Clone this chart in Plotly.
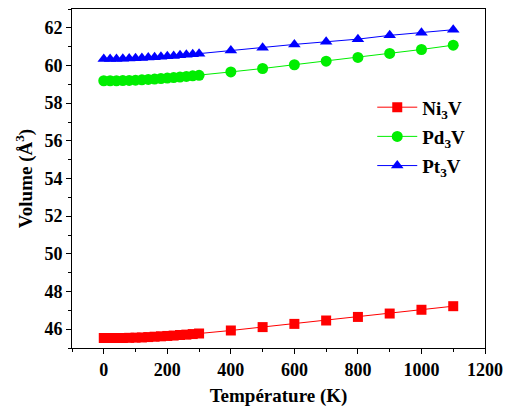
import plotly.graph_objects as go

# Temperatures (K): fine steps up to 300 K, then every 100 K
temperature = [0, 20, 40, 60, 80, 100, 120, 140, 160, 180, 200, 220, 240, 260, 280, 300,
               400, 500, 600, 700, 800, 900, 1000, 1100]

# Unit-cell volume (Å^3) for each compound
vol_ni3v = [45.53, 45.53, 45.53, 45.53, 45.54, 45.55, 45.56, 45.58, 45.60, 45.62, 45.64, 45.66,
            45.69, 45.71, 45.74, 45.77, 45.93, 46.11, 46.28, 46.46, 46.65, 46.83, 47.03, 47.22]
vol_pd3v = [59.19, 59.19, 59.19, 59.20, 59.21, 59.22, 59.24, 59.26, 59.28, 59.31, 59.33, 59.36,
            59.39, 59.42, 59.45, 59.48, 59.66, 59.84, 60.04, 60.23, 60.43, 60.64, 60.85, 61.08]
vol_pt3v = [60.35, 60.35, 60.35, 60.36, 60.37, 60.38, 60.40, 60.42, 60.44, 60.46, 60.49, 60.51,
            60.54, 60.57, 60.60, 60.63, 60.80, 60.94, 61.12, 61.26, 61.40, 61.60, 61.74, 61.90]

x_ticks = [0, 200, 400, 600, 800, 1000, 1200]
y_ticks = [46, 48, 50, 52, 54, 56, 58, 60, 62]

series = [
    ("Ni<sub>3</sub>V", vol_ni3v, "#ff0000", "square", 10),
    ("Pd<sub>3</sub>V", vol_pd3v, "#00ee00", "circle", 11),
    ("Pt<sub>3</sub>V", vol_pt3v, "#0000ff", "triangle-up", 11),
]

font_family = "Liberation Serif, Times New Roman, serif"

fig = go.Figure()
for i, (name, vals, color, symbol, size) in enumerate(series):
    fig.add_trace(go.Scatter(
        x=temperature, y=vals, name=name, mode="lines+markers",
        legendgroup="g%d" % i,
        line=dict(color=color, width=1),
        marker=dict(symbol=symbol, size=size, color=color, line=dict(width=0)),
    ))

axis_common = dict(
    showline=True, linecolor="black", linewidth=1, mirror=True,
    ticks="outside", ticklen=5, tickwidth=1, tickcolor="black",
    showgrid=False, zeroline=False,
    tickfont=dict(family=font_family, size=18, color="black", weight="bold"),
)

fig.update_xaxes(
    range=[-100, 1200], tickmode="array",
    tickvals=x_ticks,
    ticktext=[str(v) for v in x_ticks],
    minor=dict(dtick=100, tick0=0, ticks="outside", ticklen=3, tickcolor="black"),
    title=dict(text="Température (K)",
               font=dict(family=font_family, size=19, color="black", weight="bold"),
               standoff=10),
    **axis_common,
)
fig.update_yaxes(
    range=[45, 63], tickmode="array",
    tickvals=y_ticks,
    ticktext=[str(v) for v in y_ticks],
    minor=dict(dtick=1, tick0=45, ticks="outside", ticklen=3, tickcolor="black"),
    title=dict(text="Volume (Å<sup>3</sup>)",
               font=dict(family=font_family, size=19, color="black", weight="bold"),
               standoff=6),
    **axis_common,
)

fig.update_layout(
    width=511, height=412,
    margin=dict(l=72, r=20, t=8, b=64),
    paper_bgcolor="white", plot_bgcolor="white",
    showlegend=True,
    legend=dict(
        x=0.727, y=0.766, xanchor="left", yanchor="top",
        bgcolor="rgba(0,0,0,0)",
        font=dict(family=font_family, size=19, color="black", weight="bold"),
        tracegroupgap=1.5, itemwidth=40,
    ),
)

fig.write_html("out.html")
